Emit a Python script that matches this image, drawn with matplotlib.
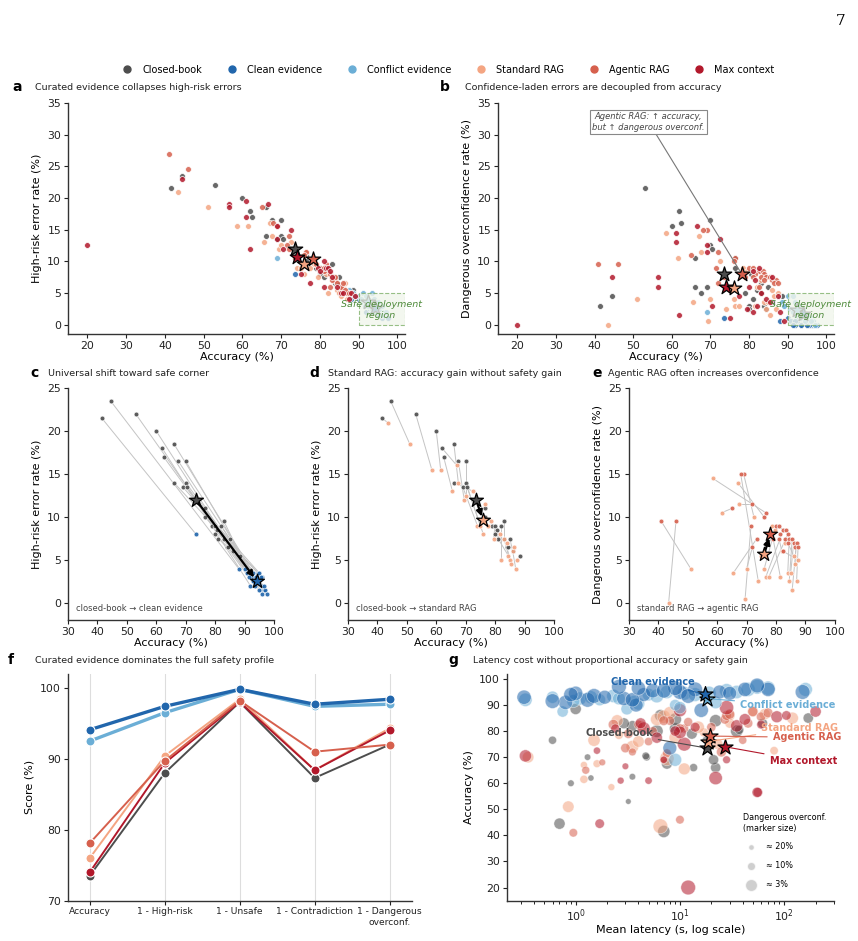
import numpy as np
import matplotlib.pyplot as plt
from matplotlib.patches import Rectangle
from matplotlib.lines import Line2D

conditions = ["Closed-book", "Clean evidence", "Conflict evidence", "Standard RAG", "Agentic RAG", "Max context"]
colors = ["#4d4d4d", "#2166ac", "#6baed6", "#f4a582", "#d6604d", "#b2182b"]

# per-model values, one list per condition (accuracy, high-risk error, dangerous overconf., latency s)
cb_acc = [41.5, 44.5, 53, 60, 62, 62.5, 66, 67.5, 70, 66, 69, 70, 70.5, 76.5, 76.5, 79, 80, 80.5, 82, 83, 80, 81, 83, 84, 85, 84.5, 86, 88.5]
cb_hr = [21.5, 23.5, 22, 20, 18, 17, 18.5, 16.5, 16.5, 14, 13.5, 14, 13.5, 11, 10, 9, 9, 8.5, 9, 9.5, 8, 7.5, 7.5, 6.5, 7.5, 6.5, 6, 5.5]
cb_oc = [3, 4.5, 21.5, 15.5, 18, 16, 10.5, 5, 16.5, 6, 6, 12.5, 12, 10.5, 9, 5, 3, 8, 5.5, 6.5, 2.5, 4, 5, 3, 6, 2.5, 3.5, 4.5]
cb_lat = [7, 0.7, 3.2, 0.9, 1.4, 3.5, 13.5, 7.5, 1.3, 22, 21, 4.8, 4.7, 0.6, 18, 13, 35, 37, 3.5, 62, 6, 9, 2.9, 22, 170, 9, 6.5, 1.0]

ce_acc = [73.5, 88, 90, 91, 92, 92.5, 93, 93.5, 94, 94.5, 95, 95, 95.5, 96, 96, 96.5, 96, 97, 97.5, 93, 94, 95.5, 92, 93.5, 94.5, 95, 96.5, 91.5]
ce_hr = [8, 4, 4, 3.5, 2, 3, 3.5, 3, 2.5, 3.5, 3.5, 2.5, 1.5, 2, 3, 1.5, 1, 1.5, 1, 2.5, 3, 3, 3.5, 2, 2.5, 1.5, 2, 3]
ce_oc = [1, 0.5, 1, 0.5, 0, 0.5, 0.5, 0, 1, 0.5, 1, 0, 0.5, 0, 0.5, 0, 0.5, 0, 0, 1, 0.5, 0, 0.5, 0, 1, 0, 0.5, 0]
ce_lat = [8, 16, 3.8, 0.8, 1.3, 2.9, 0.32, 1.5, 4.5, 1.0, 24, 10, 5.5, 14, 42, 9, 70, 2.6, 55, 1.9, 0.9, 7, 3.5, 12, 30, 150, 4, 0.6]

cf_acc = [69, 87.5, 88.5, 90, 91, 91.5, 92, 92.5, 93, 93.5, 94, 94.5, 95, 95.5, 96, 96.5, 92, 93, 94, 95, 89, 90.5, 91.5, 93.5, 94.5, 96, 97, 92.5]
cf_hr = [10.5, 5.5, 5, 4.5, 5, 4, 3.5, 4, 3.5, 5, 4, 3.5, 3, 2.5, 3, 2, 4.5, 3, 2.5, 3.5, 4.5, 4, 3, 2.5, 2, 1.5, 2, 3]
cf_oc = [2, 4.5, 3.5, 4.5, 2.5, 4.5, 1.5, 2, 3, 1.5, 2.5, 1, 1.5, 0.5, 1, 0.5, 3.5, 2, 1, 1.5, 3, 2.5, 2, 1, 0.5, 0.5, 0, 2.5]
cf_lat = [9, 0.75, 3.1, 9, 22, 3.6, 0.33, 1.1, 0.6, 2.3, 5, 11, 7.5, 28, 160, 70, 1.7, 1.4, 14, 35, 10, 4, 0.95, 6, 19, 45, 55, 2.6]

sr_acc = [43.5, 51, 58.5, 61.5, 67, 65.5, 67.5, 69.5, 70, 72.5, 74, 76, 75, 76.5, 78.5, 77.5, 79.5, 81.5, 82, 83, 84, 84.5, 85, 85.5, 86, 86.5, 87, 87.5]
sr_hr = [21, 18.5, 15.5, 15.5, 16, 13, 14, 12, 12.5, 13, 9, 8, 9, 11.5, 9.5, 9, 7.5, 8, 5, 7.5, 7, 5.5, 5, 4.5, 6, 6.5, 4, 5]
sr_oc = [0, 4, 14.5, 10.5, 14, 3.5, 11.5, 0.5, 4, 10, 2.5, 4, 5.5, 3, 9, 3, 8.5, 3, 6, 7, 3.5, 2.5, 3.5, 1.5, 5.5, 4.5, 2.5, 5]
sr_lat = [6.5, 0.85, 2.2, 1.2, 1.2, 11, 1.6, 7.5, 0.35, 80, 3.5, 4, 23, 1.5, 2.6, 9, 17, 15, 4.3, 30, 2.5, 6, 120, 7, 30, 65, 8, 50]

ar_acc = [46, 41, 76.5, 65, 76, 73.5, 72, 71.5, 72, 69, 68, 80, 81, 82.5, 83.5, 84, 81.5, 79, 81, 83, 84.5, 85.5, 86, 87, 84, 86.5, 87.5, 82.5]
ar_hr = [24.5, 27, 11.5, 18.5, 11, 10.5, 14, 12.5, 12, 15.5, 16, 9, 8.5, 8, 7.5, 7, 9.5, 9.5, 9, 7, 6.5, 6, 6.5, 5, 7.5, 5.5, 5, 6]
ar_oc = [9.5, 9.5, 10.5, 11, 10, 7.5, 11.5, 9, 6.5, 15, 15, 9, 9, 8.5, 8.5, 8, 8, 7.5, 7.5, 7.5, 7.5, 7.5, 7, 7, 7, 6.5, 6.5, 6]
ar_lat = [10, 0.95, 40, 1.25, 5, 3, 3.5, 7.5, 25, 7, 1.8, 5.5, 11, 4, 12, 8, 20, 3.2, 10, 45, 27, 60, 28, 70, 7, 30, 50, 2.3]

mc_acc = [44.5, 20, 56.5, 56.5, 61, 61, 62, 66.5, 69, 69, 70.5, 72.5, 75, 77.5, 79.5, 80, 81, 81.5, 81, 82, 83, 84.5, 85.5, 86, 88, 89, 87.5, 82.5]
mc_hr = [23, 12.5, 19, 18.5, 19.5, 17, 12, 19, 15.5, 13.5, 12, 15, 8, 6.5, 9, 8.5, 10, 9, 6, 9, 7.5, 6, 5, 5, 5, 4.5, 4, 8.5]
mc_oc = [7.5, 0, 7.5, 6, 14.5, 13, 1.5, 15.5, 12.5, 11.5, 3, 13.5, 1, 4.5, 2.5, 6, 8.5, 7, 2, 3, 5, 4, 3.5, 7.5, 2, 0.5, 4.5, 9]
mc_lat = [1.7, 12, 56, 55, 2.7, 5, 22, 3, 7, 28, 0.33, 1.6, 11, 6, 10, 9, 2.4, 14, 4.5, 35, 4.2, 42, 85, 105, 10, 28, 200, 60]

# condition-level summary (panel f) and mean latency
f_metrics = ["Accuracy", "1 - High-risk", "1 - Unsafe", "1 - Contradiction", "1 - Dangerous\noverconf."]
f_closed = [73.5, 88.0, 98.0, 87.3, 92.0]
f_clean = [94.1, 97.4, 99.8, 97.7, 98.4]
f_conflict = [92.5, 96.5, 99.8, 97.4, 97.7]
f_standard = [76.0, 90.4, 98.4, 88.4, 94.3]
f_agentic = [78.1, 89.7, 98.2, 91.0, 92.0]
f_max = [74.0, 89.4, 98.0, 88.4, 94.0]
mean_lat = [18, 17.5, 18, 18.5, 19.5, 27]

acc = [cb_acc, ce_acc, cf_acc, sr_acc, ar_acc, mc_acc]
hr = [cb_hr, ce_hr, cf_hr, sr_hr, ar_hr, mc_hr]
oc = [cb_oc, ce_oc, cf_oc, sr_oc, ar_oc, mc_oc]
lat = [cb_lat, ce_lat, cf_lat, sr_lat, ar_lat, mc_lat]
summ = [f_closed, f_clean, f_conflict, f_standard, f_agentic, f_max]

plt.rcParams['font.family'] = ['DejaVu Sans']
fig = plt.figure(figsize=(8.58, 9.41), dpi=100)

TICK = 7.8
LAB = 8


def style(ax):
    for s in ['top', 'right']:
        ax.spines[s].set_visible(False)
    for s in ['left', 'bottom']:
        ax.spines[s].set_color('#333333')
        ax.spines[s].set_linewidth(1.0)
    ax.tick_params(labelsize=TICK, colors='#222222', length=3, pad=2)


def safe_box(ax):
    ax.add_patch(Rectangle((90, 0), 12, 5, facecolor='#f1f6ec', alpha=0.8, edgecolor='#7fb069',
                           ls='--', lw=0.8, zorder=6))
    ax.text(95.8, 2.3, "Safe deployment\nregion", ha='center', va='center', fontsize=6.8,
            style='italic', color='#4e8a3a', zorder=7)


def star(ax, x, y, c, s=120, z=8):
    ax.scatter([x], [y], marker='*', s=s, color=c, edgecolor='black', linewidth=0.9, zorder=z)


# ---- a and b ----
ax_a = fig.add_axes([0.0793, 0.645, 0.393, 0.2455])
ax_b = fig.add_axes([0.5804, 0.645, 0.3916, 0.2455])
for ax, ys, idx in [(ax_a, hr, 1), (ax_b, oc, 4)]:
    for i in range(6):
        ax.scatter(acc[i], ys[i], s=18, color=colors[i], edgecolor='white', linewidth=0.6, alpha=0.85, zorder=3)
    for i in [1, 2]:
        star(ax, summ[i][0], 100 - summ[i][idx], colors[i], z=5)
    for i in [0, 5, 3, 4]:
        star(ax, summ[i][0], 100 - summ[i][idx], colors[i])
    safe_box(ax)
    ax.set_xlim(15, 102)
    ax.set_ylim(-1.5, 35)
    ax.set_xticks(range(20, 101, 10))
    ax.set_yticks(range(0, 36, 5))
    ax.set_xlabel("Accuracy (%)", fontsize=LAB, labelpad=1)
    style(ax)
ax_a.set_ylabel("High-risk error rate (%)", fontsize=LAB)
ax_b.set_ylabel("Dangerous overconfidence rate (%)", fontsize=LAB)
ax_b.annotate("Agentic RAG: \u2191 accuracy,\nbut \u2191 dangerous overconf.", xy=(f_agentic[0], 100 - f_agentic[4]),
              xytext=(54, 32), ha='center', va='center', fontsize=6, style='italic', color='#444444',
              bbox=dict(boxstyle='square,pad=0.3', fc='white', ec='#888888', lw=0.8),
              arrowprops=dict(arrowstyle='-', color='#777777', lw=0.8, shrinkA=0, shrinkB=3), zorder=9)

# ---- c, d, e ----
pairs = [(0, 1, hr, 1, "closed-book \u2192 clean evidence"),
         (0, 3, hr, 1, "closed-book \u2192 standard RAG"),
         (3, 4, oc, 4, "standard RAG \u2192 agentic RAG")]
lefts = [0.0793, 0.4056, 0.733]
axes_cde = []
for (a, b, ys, idx, note), left in zip(pairs, lefts):
    ax = fig.add_axes([left, 0.341, 0.24, 0.2465])
    axes_cde.append(ax)
    for k in range(len(acc[a])):
        ax.plot([acc[a][k], acc[b][k]], [ys[a][k], ys[b][k]], color='#c4c4c4', lw=0.7, zorder=1)
    ax.scatter(acc[a], ys[a], s=12, color=colors[a], edgecolor='white', linewidth=0.5, alpha=0.9, zorder=3)
    ax.scatter(acc[b], ys[b], s=12, color=colors[b], edgecolor='white', linewidth=0.5, alpha=0.9, zorder=3)
    p0 = (summ[a][0], 100 - summ[a][idx])
    p1 = (summ[b][0], 100 - summ[b][idx])
    star(ax, p0[0], p0[1], colors[a], s=110)
    star(ax, p1[0], p1[1], colors[b], s=110)
    ax.annotate('', xy=p1, xytext=p0,
                arrowprops=dict(arrowstyle='-|>', color='black', lw=1.6, mutation_scale=9, shrinkA=3, shrinkB=3),
                zorder=9)
    ax.text(0.04, 0.04, note, transform=ax.transAxes, fontsize=6, color='#444444')
    ax.set_xlim(30, 100)
    ax.set_ylim(-2, 25)
    ax.set_xticks(range(30, 101, 10))
    ax.set_yticks(range(0, 26, 5))
    ax.set_xlabel("Accuracy (%)", fontsize=LAB, labelpad=1)
    style(ax)
axes_cde[0].set_ylabel("High-risk error rate (%)", fontsize=LAB)
axes_cde[1].set_ylabel("High-risk error rate (%)", fontsize=LAB)
axes_cde[2].set_ylabel("Dangerous overconfidence rate (%)", fontsize=LAB)

# ---- f ----
ax_f = fig.add_axes([0.0793, 0.043, 0.401, 0.241])
xs = np.arange(len(f_metrics))
for x in xs:
    ax_f.axvline(x, color='#dddddd', lw=0.8, zorder=0)
for i in [0, 3, 5, 4, 2, 1]:
    lw = 2.4 if i in (1, 2) else 1.4
    ax_f.plot(xs, summ[i], color=colors[i], lw=lw, marker='o', ms=6.5, mec='white', mew=0.8, zorder=3)
ax_f.set_xticks(xs)
ax_f.set_xticklabels(f_metrics)
ax_f.set_xlim(-0.29, 4.3)
ax_f.set_ylim(70, 102)
ax_f.set_yticks([70, 80, 90, 100])
ax_f.set_ylabel("Score (%)", fontsize=LAB)
style(ax_f)
ax_f.tick_params(axis='x', labelsize=6.6)

# ---- g ----
ax_g = fig.add_axes([0.591, 0.043, 0.381, 0.241])


def bubble(v):
    return 12 + 100 * np.exp(-np.asarray(v, dtype=float) / 7)


for i in [0, 3, 4, 5, 2, 1]:
    ax_g.scatter(lat[i], acc[i], s=bubble(oc[i]), color=colors[i], alpha=0.55, edgecolor='white', linewidth=0.5, zorder=3)
for i in [0, 3, 4, 5, 2, 1]:
    star(ax_g, mean_lat[i], summ[i][0], colors[i], s=130)
label_pos = [(2.6, 79.4), (5.5, 98.9), (108, 90), (141, 81), (165, 77.6), (152, 68.6)]
for i in range(6):
    ax_g.annotate(conditions[i], xy=(mean_lat[i], summ[i][0]), xytext=label_pos[i], ha='center', va='center',
                  fontsize=7, fontweight='bold', color=colors[i],
                  arrowprops=dict(arrowstyle='-', color=colors[i], lw=0.8, shrinkA=2, shrinkB=4), zorder=10)
ax_g.set_xscale('log')
ax_g.set_xlim(0.22, 300)
ax_g.set_ylim(15, 102)
ax_g.set_yticks(range(20, 101, 10))
ax_g.set_xlabel("Mean latency (s, log scale)", fontsize=LAB, labelpad=1)
ax_g.set_ylabel("Accuracy (%)", fontsize=LAB)
style(ax_g)
size_levels = [20, 10, 3]
handles = [ax_g.scatter([], [], s=bubble(v), color='#bbbbbb', alpha=0.7, edgecolor='white') for v in size_levels]
ax_g.legend(handles, ["\u2248 %d%%" % v for v in size_levels], title="Dangerous overconf.\n(marker size)",
            loc='lower right', bbox_to_anchor=(1.0, 0.02), frameon=False, fontsize=5.8, title_fontsize=5.8,
            labelspacing=1.2, handletextpad=0.8, alignment='left')

# ---- legend, titles ----
leg_handles = [Line2D([], [], ls='', marker='o', ms=5, color=c) for c in colors]
fig.legend(leg_handles, conditions, loc='center', bbox_to_anchor=(0.52, 0.926), ncol=6, frameon=False,
           fontsize=7, handletextpad=0.6, columnspacing=2.0)

titles = [(0.014, 0.041, 0.9075, "a", "Curated evidence collapses high-risk errors"),
          (0.513, 0.542, 0.9075, "b", "Confidence-laden errors are decoupled from accuracy"),
          (0.035, 0.056, 0.6036, "c", "Universal shift toward safe corner"),
          (0.361, 0.382, 0.6036, "d", "Standard RAG: accuracy gain without safety gain"),
          (0.690, 0.709, 0.6036, "e", "Agentic RAG often increases overconfidence"),
          (0.009, 0.041, 0.2986, "f", "Curated evidence dominates the full safety profile"),
          (0.522, 0.551, 0.2986, "g", "Latency cost without proportional accuracy or safety gain")]
for lx, tx, y, letter, t in titles:
    fig.text(lx, y, letter, fontsize=10, fontweight='bold', va='center')
    fig.text(tx, y, t, fontsize=6.8, va='center', color='#222222')

fig.text(0.985, 0.985, "7", fontsize=11, family='DejaVu Serif', ha='right', va='top')

fig.savefig("out.png", dpi=100)
